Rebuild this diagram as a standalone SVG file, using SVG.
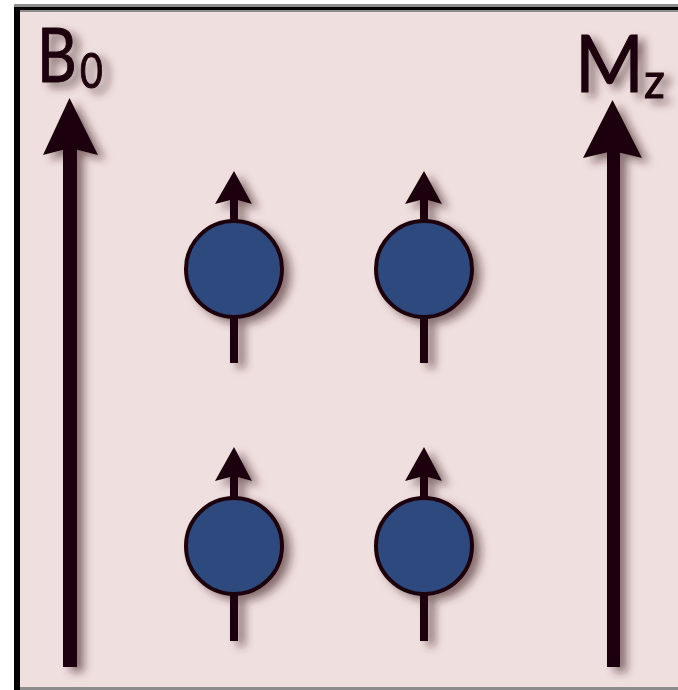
<svg xmlns="http://www.w3.org/2000/svg" width="678" height="690" viewBox="0 0 678 690">
<defs>
<filter id="sh" x="-50%" y="-50%" width="200%" height="200%">
<feGaussianBlur in="SourceAlpha" stdDeviation="4"/>
<feOffset dx="7" dy="5" result="b"/>
<feFlood flood-color="#3a1a1c" flood-opacity="0.55"/>
<feComposite in2="b" operator="in"/>
<feMerge><feMergeNode/><feMergeNode in="SourceGraphic"/></feMerge>
</filter>
<style>
.lbl{font-family:"Lato","Open Sans",sans-serif;fill:#1e0408;stroke:#1e0408;stroke-width:1;}
.dark{fill:#1e0408;}
.stem{stroke:#1e0408;stroke-width:8;fill:none;}
.ball{fill:#2f4a7e;stroke:#1e0408;stroke-width:4;}
</style>
</defs>
<rect x="0" y="0" width="678" height="690" fill="#ffffff"/>
<rect x="14" y="4" width="664" height="686" fill="#efdfdf"/>
<rect x="14" y="4" width="664" height="3" fill="#8c8c8c"/>
<rect x="14" y="7" width="664" height="3" fill="#000000"/>
<rect x="20" y="10" width="658" height="2" fill="#8c8c8c"/>
<rect x="14" y="7" width="6" height="683" fill="#000000"/>
<rect x="20" y="687" width="658" height="3" fill="#8c8c8c"/>
<g id="B0" filter="url(#sh)">
<text class="lbl" transform="translate(37,82) scale(0.82,1)" font-size="75">B<tspan font-size="48" dx="4" dy="6">0</tspan></text>
<rect class="dark" x="63" y="145" width="14" height="522"/>
<path class="dark" d="M69.5 98 L98 155 L70 148 L43 155 Z"/>
</g>
<g id="Mz" filter="url(#sh)">
<text class="lbl" transform="translate(575,92) scale(0.94,1)" font-size="79">M<tspan font-size="49" dy="6">z</tspan></text>
<rect class="dark" x="607" y="145" width="13" height="522"/>
<path class="dark" d="M612.5 100 L642 158 L613 151 L583 158 Z"/>
</g>
<g id="spin1" filter="url(#sh)">
<line class="stem" x1="234" y1="198" x2="234" y2="363"/>
<path class="dark" d="M234 171 L252 204 L234 199 L215 204 Z"/>
<circle class="ball" cx="234" cy="269" r="48"/>
</g>
<g id="spin2" filter="url(#sh)">
<line class="stem" x1="424" y1="198" x2="424" y2="363"/>
<path class="dark" d="M424 171 L442 204 L424 199 L405 204 Z"/>
<circle class="ball" cx="424" cy="269" r="48"/>
</g>
<g id="spin3" filter="url(#sh)">
<line class="stem" x1="234" y1="475" x2="234" y2="641"/>
<path class="dark" d="M234 447 L252 481 L234 476 L215 481 Z"/>
<circle class="ball" cx="234" cy="546" r="48"/>
</g>
<g id="spin4" filter="url(#sh)">
<line class="stem" x1="424" y1="475" x2="424" y2="641"/>
<path class="dark" d="M424 447 L442 481 L424 476 L405 481 Z"/>
<circle class="ball" cx="424" cy="546" r="48"/>
</g>
<g id="connectors"></g>
</svg>
